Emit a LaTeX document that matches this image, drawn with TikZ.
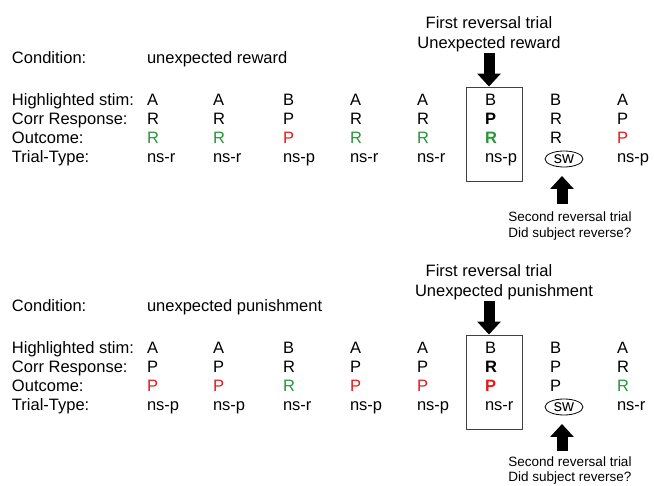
\documentclass[tikz,border=0pt]{standalone}
\usepackage{fontspec}
\setmainfont{Liberation Sans}
\usetikzlibrary{arrows.meta,shapes.geometric}
\definecolor{okgreen}{RGB}{40,150,55}
\definecolor{badred}{RGB}{230,25,25}
\newcommand\Gr[1]{\textcolor{okgreen}{#1}}
\newcommand\Rd[1]{\textcolor{badred}{#1}}
\begin{document}
\begin{tikzpicture}[x=1pt,y=-1pt,
  txt/.style={anchor=base west, inner sep=0pt, outer sep=0pt, font=\fontsize{16.5}{19}\selectfont},
  ctxt/.style={anchor=base, inner sep=0pt, outer sep=0pt, font=\fontsize{16.5}{19}\selectfont},
  small/.style={anchor=base, inner sep=0pt, outer sep=0pt, font=\fontsize{13.5}{16}\selectfont},
  trialbox/.style={draw=black!75, line width=0.9pt, minimum width=56pt, minimum height=94pt, inner sep=0pt},
  swmark/.style={draw, ellipse, line width=0.8pt, inner sep=0pt, minimum width=38pt, minimum height=16pt, font=\fontsize{16.5}{19}\selectfont},
  blockarrow/.style={line width=11pt, -{Triangle[width=23pt,length=13pt]}}]
\useasboundingbox (0,0) rectangle (654,486);

% ---------------- top panel ----------------
\node[ctxt] (t-title1) at (489,29) {First reversal trial};
\node[ctxt] (t-title2) at (489,49) {Unexpected reward};
\node[txt] (t-cond) at (12,64) {Condition:};
\node[txt] (t-condv) at (147,64) {unexpected reward};
\node[txt] (t-l1) at (12,106) {Highlighted stim:};
\node[txt] (t-l2) at (12,125) {Corr Response:};
\node[txt] (t-l3) at (12,144) {Outcome:};
\node[txt] (t-l4) at (12,163) {Trial-Type:};
\foreach \i/\x/\a/\b/\c in {
  1/147/A/R/\Gr{R},
  2/213/A/R/\Gr{R},
  3/283/B/P/\Rd{P},
  4/350/A/R/\Gr{R},
  5/417/A/R/\Gr{R},
  6/485/B/\textbf{P}/\Gr{\textbf{R}},
  7/550/B/R/R,
  8/617/A/P/\Rd{P}}{
  \node[txt] (t-a\i) at (\x,106) {\a};
  \node[txt] (t-b\i) at (\x,125) {\b};
  \node[txt] (t-c\i) at (\x,144) {\c};
}
\foreach \i/\x/\d in {1/147/ns-r,2/213/ns-r,3/283/ns-p,4/350/ns-r,5/417/ns-r,6/485/ns-p,8/617/ns-p}{
  \node[txt] (t-d\i) at (\x,163) {\d};
}
\node[swmark] (t-sw) at (564,159) {sw};
\node[trialbox] (t-box) at (494,134) {};
\coordinate (t-dtail) at (489,53);
\draw[blockarrow] (t-dtail) -- (t-dtail |- t-box.north);
\node[small] (t-sec1) at (570,222) {Second reversal trial};
\node[small] (t-sec2) at (570,238) {Did subject reverse?};
\coordinate (t-utail) at (562,204);
\coordinate (t-uhead) at (562,176);
\draw[blockarrow] (t-utail) -- (t-uhead);

% ---------------- bottom panel ----------------
\node[ctxt] (b-title1) at (489,277) {First reversal trial};
\node[txt] (b-title2) at (415,297) {Unexpected punishment};
\node[txt] (b-cond) at (12,312) {Condition:};
\node[txt] (b-condv) at (147,312) {unexpected punishment};
\node[txt] (b-l1) at (12,354) {Highlighted stim:};
\node[txt] (b-l2) at (12,373) {Corr Response:};
\node[txt] (b-l3) at (12,392) {Outcome:};
\node[txt] (b-l4) at (12,411) {Trial-Type:};
\foreach \i/\x/\a/\b/\c in {
  1/147/A/P/\Rd{P},
  2/213/A/P/\Rd{P},
  3/283/B/R/\Gr{R},
  4/350/A/P/\Rd{P},
  5/417/A/P/\Rd{P},
  6/485/B/\textbf{R}/\Rd{\textbf{P}},
  7/550/B/P/P,
  8/617/A/R/\Gr{R}}{
  \node[txt] (b-a\i) at (\x,354) {\a};
  \node[txt] (b-b\i) at (\x,373) {\b};
  \node[txt] (b-c\i) at (\x,392) {\c};
}
\foreach \i/\x/\d in {1/147/ns-p,2/213/ns-p,3/283/ns-r,4/350/ns-p,5/417/ns-p,6/485/ns-r,8/617/ns-r}{
  \node[txt] (b-d\i) at (\x,411) {\d};
}
\node[swmark] (b-sw) at (564,407) {sw};
\node[trialbox] (b-box) at (494,382) {};
\coordinate (b-dtail) at (489,301);
\draw[blockarrow] (b-dtail) -- (b-dtail |- b-box.north);
\node[small] (b-sec1) at (570,467) {Second reversal trial};
\node[small] (b-sec2) at (570,482) {Did subject reverse?};
\coordinate (b-utail) at (562,451);
\coordinate (b-uhead) at (562,424);
\draw[blockarrow] (b-utail) -- (b-uhead);
\end{tikzpicture}
\end{document}
